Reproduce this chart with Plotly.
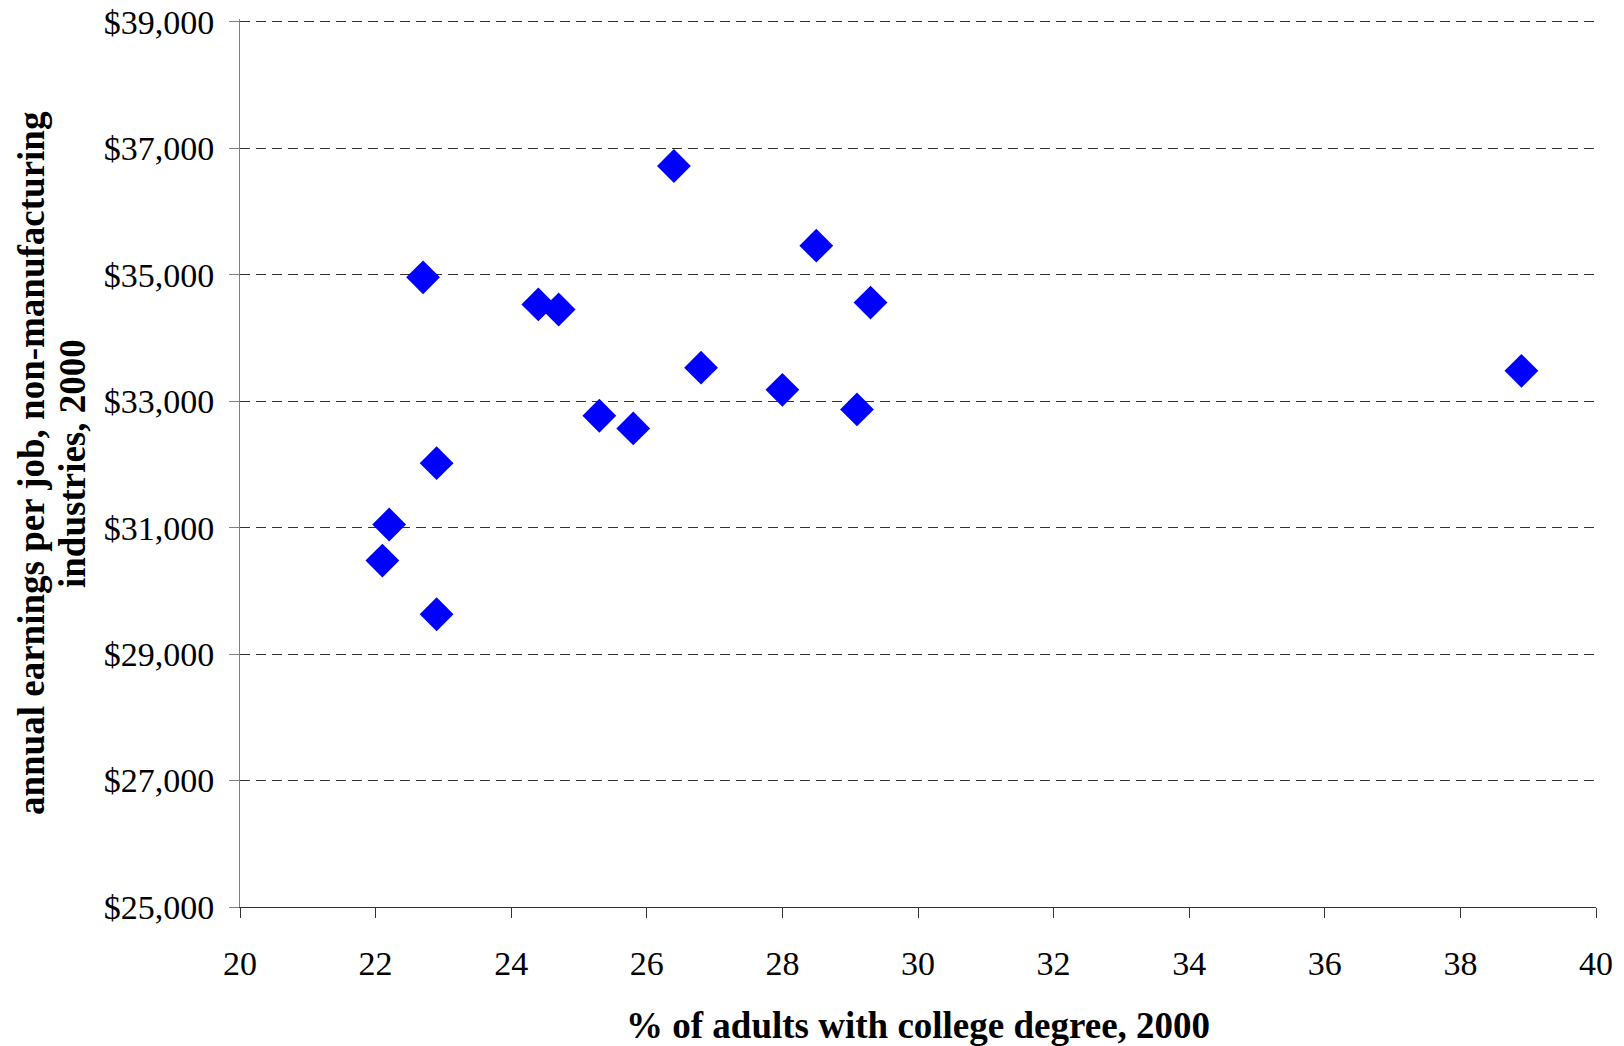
import plotly.graph_objects as go

college_pct = [22.7, 26.4, 28.5, 24.4, 24.7, 29.3, 26.8, 38.9, 28.0, 29.1, 25.3, 25.8, 22.9, 22.2, 22.1, 22.9]
earnings = [34960, 36720, 35460, 34530, 34450, 34560, 33530, 33480, 33180, 32870, 32770, 32570, 32020, 31050, 30480, 29630]

x_ticks = [20, 22, 24, 26, 28, 30, 32, 34, 36, 38, 40]
y_ticks = [25000, 27000, 29000, 31000, 33000, 35000, 37000, 39000]
y_tick_labels = ["$25,000", "$27,000", "$29,000", "$31,000", "$33,000", "$35,000", "$37,000", "$39,000"]

x_title = "% of adults with college degree, 2000"
y_title_line1 = "annual earnings per job, non-manufacturing"
y_title_line2 = "industries, 2000"

FONT = "Liberation Serif"

fig = go.Figure()
fig.add_trace(go.Scatter(
    x=college_pct, y=earnings, mode="markers",
    marker=dict(symbol="diamond", size=26, color="#0000FF", line=dict(width=0)),
    showlegend=False, hoverinfo="x+y",
))

fig.update_layout(
    width=1624, height=1046,
    margin=dict(l=240, r=28, t=19, b=139, autoexpand=False),
    paper_bgcolor="white", plot_bgcolor="white",
    font=dict(family=FONT, size=34, color="black"),
    xaxis=dict(
        range=[20, 40], tickvals=x_ticks, ticktext=[str(v) for v in x_ticks],
        showgrid=False, zeroline=False, automargin=False,
        showline=True, linecolor="#333333", linewidth=1,
        ticks="outside", ticklen=10, tickcolor="#333333", tickwidth=1,
        ticklabelstandoff=16,
        tickfont=dict(family=FONT, size=34, color="black"),
    ),
    yaxis=dict(
        range=[25000, 39045], tickvals=y_ticks, ticktext=y_tick_labels,
        showgrid=True, gridcolor="#333333", gridwidth=1, griddash="10px,6px",
        zeroline=False, automargin=False,
        showline=True, linecolor="#808080", linewidth=1,
        ticks="outside", ticklen=10, tickcolor="#808080", tickwidth=1,
        ticklabelstandoff=8,
        tickfont=dict(family=FONT, size=34, color="black"),
    ),
    annotations=[
        dict(text="<b>" + x_title + "</b>", xref="paper", yref="paper",
             x=0.5, y=-0.133, xanchor="center", yanchor="middle",
             showarrow=False, font=dict(family=FONT, size=37, color="black")),
        dict(text="<b>" + y_title_line1 + "</b>", xref="paper", yref="paper",
             x=-0.1541, y=0.5, xanchor="center", yanchor="middle", textangle=-90,
             showarrow=False, font=dict(family=FONT, size=37, color="black")),
        dict(text="<b>" + y_title_line2 + "</b>", xref="paper", yref="paper",
             x=-0.1239, y=0.5, xanchor="center", yanchor="middle", textangle=-90,
             showarrow=False, font=dict(family=FONT, size=37, color="black")),
    ],
)

fig.write_html("out.html", config={"displayModeBar": False})

with open("out.html", "r", encoding="utf-8") as f:
    html = f.read()
html = html.replace("<head>", "<head><style>html,body{margin:0;padding:0;overflow:hidden;}</style>", 1)
with open("out.html", "w", encoding="utf-8") as f:
    f.write(html)
